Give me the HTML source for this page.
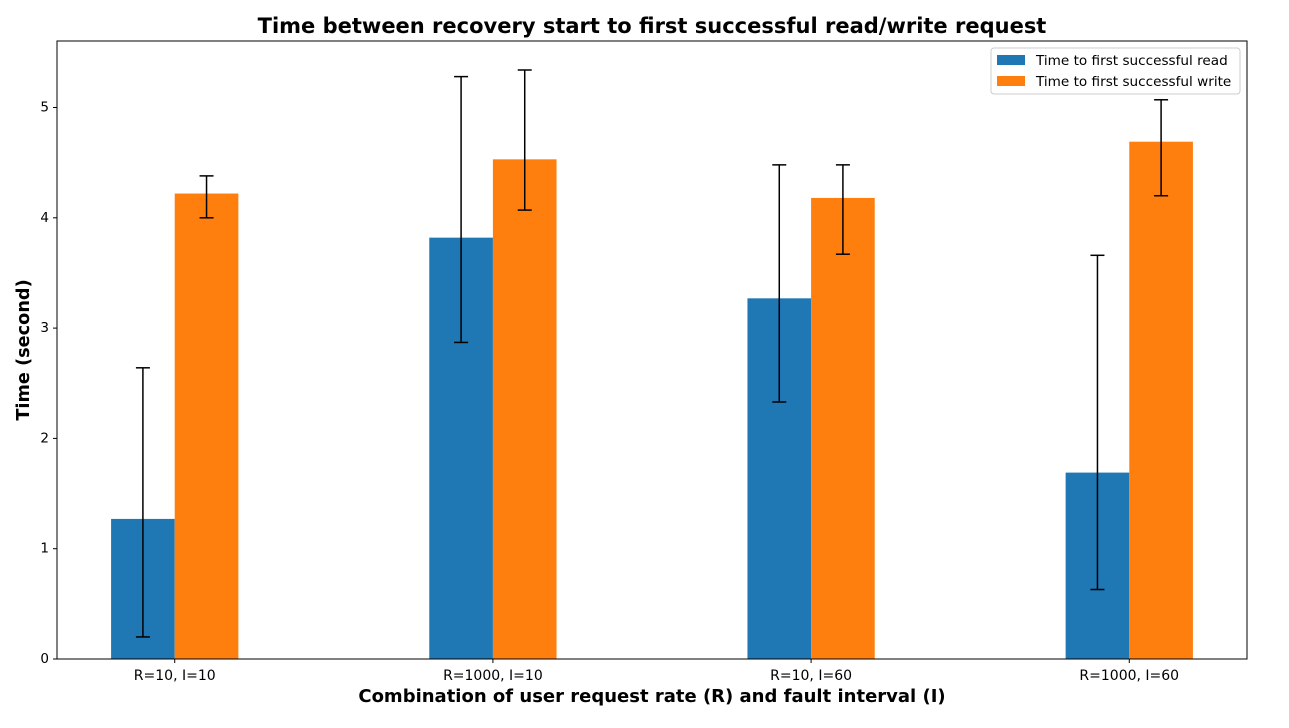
<!DOCTYPE html>
<html><head><meta charset="utf-8"><style>
body{margin:0;background:#fff;font-family:"DejaVu Sans",sans-serif}
</style></head><body>
<svg id="chart" width="1289" height="724" xmlns="http://www.w3.org/2000/svg" font-family="DejaVu Sans, Liberation Sans, sans-serif">
<rect width="1289" height="724" fill="#fff"/>
<text x="652" y="33" text-anchor="middle" font-size="21" font-weight="bold">Time between recovery start to first successful read/write request</text>
<g id="plot"></g>
<rect x="57" y="41" width="1190" height="618" fill="none" stroke="#000" stroke-width="1"/>
<text x="652" y="702" text-anchor="middle" font-size="18" font-weight="bold">Combination of user request rate (R) and fault interval (I)</text>
<text transform="translate(29,350) rotate(-90)" text-anchor="middle" font-size="17.7" font-weight="bold">Time (second)</text>
<g>
<rect x="991" y="48" width="249" height="46" fill="#fff" stroke="#ccc" rx="3"/>
<rect x="997" y="55" width="28" height="10" fill="#1f77b4"/>
<text x="1036" y="65" font-size="13.6">Time to first successful read</text>
<rect x="997" y="76" width="28" height="10" fill="#ff7f0e"/>
<text x="1036" y="86" font-size="13.6">Time to first successful write</text>
</g>
</svg>
<script>
const categories=["R=10, I=10","R=1000, I=10","R=10, I=60","R=1000, I=60"];
const readValues=[1.27,3.82,3.27,1.69];
const readLower=[0.2,2.87,2.33,0.63];
const readUpper=[2.64,5.28,4.48,3.66];
const writeValues=[4.22,4.53,4.18,4.69];
const writeLower=[4.0,4.07,3.67,4.2];
const writeUpper=[4.38,5.34,4.48,5.07];
const yTicks=[0,1,2,3,4,5];
const NS="http://www.w3.org/2000/svg";
const g=document.getElementById('plot');
const L=57,R=1247,T=41,B=659;
function y(v){return B-v*110.3;}
function x(i){return L+(i+0.37)*(R-L)/3.74;}
const bw=0.2*(R-L)/3.74;
function mk(tag,attrs){const e=document.createElementNS(NS,tag);for(const k in attrs)e.setAttribute(k,attrs[k]);g.appendChild(e);return e;}
yTicks.forEach(t=>{
 const l=mk('line',{x1:L-4,x2:L,y1:y(t),y2:y(t),stroke:'#000'});
 
 
 const tx=mk('text',{x:L-8,y:y(t)+4,'text-anchor':'end','font-size':13.5});
 tx.textContent=t;
 
 
});
function errBar(cx,lo,hi){
 mk('line',{x1:cx,x2:cx,y1:y(lo),y2:y(hi),stroke:'#000','stroke-width':1.5});
 mk('line',{x1:cx-7,x2:cx+7,y1:y(lo),y2:y(lo),stroke:'#000','stroke-width':1.5});
 mk('line',{x1:cx-7,x2:cx+7,y1:y(hi),y2:y(hi),stroke:'#000','stroke-width':1.5});
}
categories.forEach((c,i)=>{
 const cx=x(i);
 const r=mk('rect',{x:cx-bw,y:y(readValues[i]),width:bw,height:B-y(readValues[i]),fill:'#1f77b4'});
 
 
 const w=mk('rect',{x:cx,y:y(writeValues[i]),width:bw,height:B-y(writeValues[i]),fill:'#ff7f0e'});
 
 
 errBar(cx-bw/2,readLower[i],readUpper[i]);
 errBar(cx+bw/2,writeLower[i],writeUpper[i]);
 const tk=mk('line',{x1:cx,x2:cx,y1:B,y2:B+4,stroke:'#000'});
 
 
 const tx=mk('text',{x:cx,y:B+21,'text-anchor':'middle','font-size':14});
 tx.textContent=c;
 
 
});
</script>
</body></html>
